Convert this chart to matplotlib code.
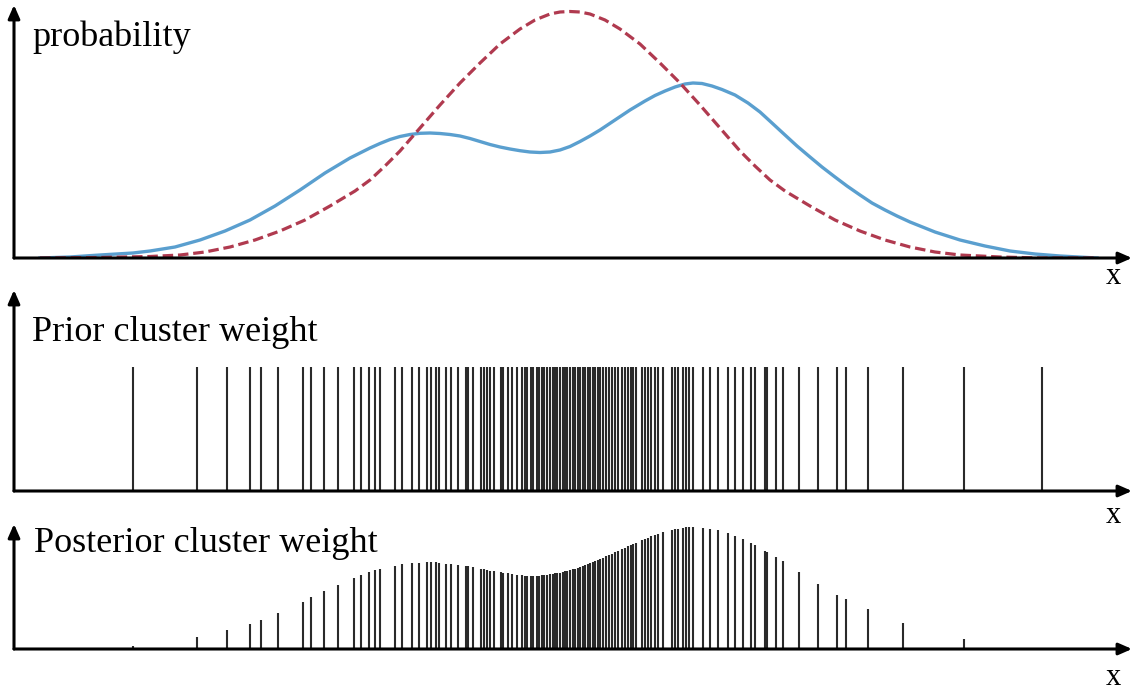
import numpy as np
import matplotlib
matplotlib.use("Agg")
import matplotlib.pyplot as plt

# Density curves (x position, height) for the top panel
blue_x = [40, 70, 100, 133, 150, 175, 200, 225, 250, 275, 300, 325, 350, 370, 380,
          390, 400, 410, 420, 430, 440, 450, 460, 470, 480, 490, 500, 510, 520, 530,
          540, 550, 560, 570, 580, 590, 600, 615, 630, 645, 655, 665, 675, 685, 693,
          702, 712, 722, 735, 748, 760, 772, 785, 797, 810, 822, 835, 847, 860, 872,
          885, 897, 910, 935, 960, 985, 1010, 1035, 1060, 1097]
blue_y = [0, 1, 3, 5, 7, 11, 18, 27, 38, 52, 68, 85, 100, 110, 114.5,
          118.5, 121.5, 123.5, 124.7, 125, 124.5, 123.5, 122, 119.5, 116.5, 113.5, 111, 109, 107.3, 106,
          105.5, 106, 108, 111.5, 116.5, 122, 128, 138, 148, 157, 162.5, 167, 171, 174, 175,
          174.5, 172, 168.5, 163, 155, 146, 135, 123, 112, 101, 91, 81, 72, 63, 55,
          48, 42, 36, 26, 18, 12, 7, 4, 2, 0]

red_x = [40, 100, 150, 180, 205, 230, 255, 280, 305, 330, 355, 370, 385, 400, 420,
         440, 460, 480, 500, 520, 535, 550, 560, 570, 580, 590, 605, 620, 640, 660,
         680, 700, 720, 740, 755, 770, 785, 810, 835, 860, 885, 910, 935, 960, 1000,
         1040, 1097]
red_y = [0, 0.5, 1.5, 3, 6, 11, 18, 27, 38, 52, 67, 78, 92, 107, 130,
         153, 175, 195, 214, 229, 238, 244, 246, 246.5, 246, 244, 238, 229, 214, 195,
         175, 153, 130, 107, 92, 78, 67, 52, 38, 27, 18, 11, 6, 3, 1,
         0, 0]

# Cluster positions and their posterior weights
cluster_x = [133, 197, 227, 250, 261, 278, 303, 311, 324, 338, 354, 361, 369, 375, 380,
             395, 402, 412, 419, 427, 431, 436, 439, 446, 451, 458, 466, 468, 473, 481,
             484, 487, 490, 494, 501, 503, 508, 512, 517, 522, 525, 527, 531, 533, 537,
             539, 542, 544, 547, 550, 553, 555, 557, 560, 563, 565, 567, 570, 573, 575,
             578, 580, 583, 585, 588, 590, 593, 595, 598, 600, 603, 606, 609, 612, 615,
             618, 622, 625, 628, 631, 633, 636, 642, 645, 648, 651, 655, 658, 663, 672,
             675, 678, 683, 686, 689, 693, 703, 710, 718, 728, 735, 743, 751, 755, 765,
             767, 776, 783, 799, 818, 837, 846, 868, 903, 964, 1042]
posterior_w = [3, 12, 19, 25, 29, 36, 47, 52, 58, 64, 71, 74, 77, 79, 80,
               83, 85, 86, 86, 87, 87, 87, 86, 85, 85, 84, 83, 83, 82, 80,
               80, 79, 78, 78, 77, 76, 76, 75, 74, 74, 73, 73, 73, 73, 73,
               73, 74, 74, 74, 75, 75, 76, 76, 76, 77, 78, 78, 79, 80, 80,
               81, 82, 83, 84, 85, 86, 87, 88, 89, 90, 91, 93, 94, 95, 97,
               98, 100, 101, 103, 104, 105, 106, 109, 110, 111, 113, 114, 115, 117, 119,
               120, 120, 121, 122, 122, 122, 121, 120, 119, 116, 113, 110, 106, 104, 98,
               97, 92, 88, 77, 65, 54, 50, 40, 26, 10, 1]
prior_w = 124

W, H = 1134, 691
fig = plt.figure(figsize=(W / 100, H / 100), dpi=100)
plt.rcParams['font.family'] = ['Liberation Serif', 'DejaVu Serif']


def panel(top, bottom, ymax):
    ax = fig.add_axes([14 / W, 1 - bottom / H, (1132 - 14) / W, (bottom - top) / H])
    ax.set_xlim(14, 1132)
    ax.set_ylim(0, ymax)
    ax.axis('off')
    arrow = dict(arrowstyle='-|>,head_length=0.8,head_width=0.35', lw=2.2,
                 color='black', shrinkA=0, shrinkB=0)
    ax.annotate('', xy=(1, 0), xytext=(0, 0), xycoords='axes fraction', arrowprops=arrow)
    ax.annotate('', xy=(0, 1), xytext=(0, 0), xycoords='axes fraction', arrowprops=arrow)
    return ax


ax1 = panel(5, 258, 253)
ax1.plot(blue_x, blue_y, color='#5a9fcf', lw=2.4, solid_joinstyle='round')
ax1.plot(red_x, red_y, color='#b03a4f', lw=2.3, linestyle=(0, (3.3, 1.5)))

ax2 = panel(290, 491, 201)
ax2.vlines(cluster_x, 0, prior_w, colors='#2a2a2a', lw=1.5)

ax3 = panel(524, 649, 125)
ax3.vlines(cluster_x, 0, posterior_w, colors='#2a2a2a', lw=1.5)


def label(x, y, s, size, ha='left'):
    fig.text(x / W, 1 - y / H, s, fontsize=size, ha=ha, va='baseline')


label(32, 46, 'probability', 26)
label(32, 341, 'Prior cluster weight', 26)
label(34, 552, 'Posterior cluster weight', 26)
label(1113, 284, 'x', 22, ha='center')
label(1113, 523, 'x', 22, ha='center')
label(1113, 685, 'x', 22, ha='center')

fig.savefig('out.png', dpi=100)
